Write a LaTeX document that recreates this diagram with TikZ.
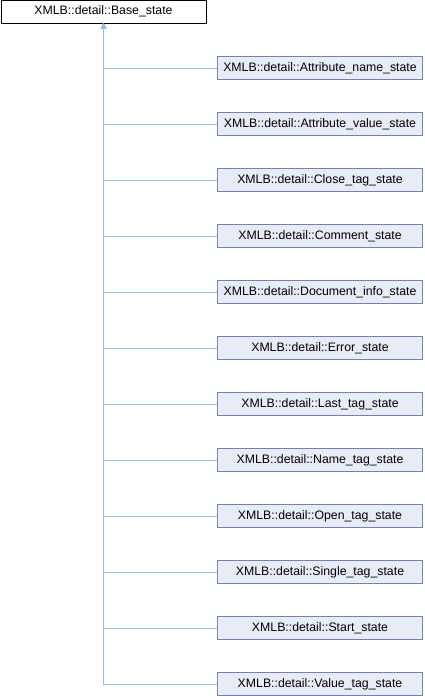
\documentclass[tikz,border=0pt]{standalone}
\usepackage{fontspec}
\setmainfont{Liberation Sans}
\usetikzlibrary{arrows.meta,positioning}
\definecolor{edgeblue}{RGB}{138,196,230}
\definecolor{boxfill}{RGB}{232,236,246}
\definecolor{boxline}{RGB}{110,130,185}

\begin{document}
\begin{tikzpicture}[x=1pt,y=-1pt,
  cls/.style={draw=boxline,fill=boxfill,minimum width=205pt,minimum height=23pt,inner sep=0pt,font=\fontsize{12.3}{14}\selectfont},
  basecls/.style={cls,draw=black,fill=white},
  inherit/.style={draw=edgeblue,line width=0.8pt,-{Triangle[width=5.5pt,length=5.5pt]}}]
\useasboundingbox (0,0) rectangle (424,696);

\node[basecls] (base) at (103.5,11.5) {XMLB::detail::Base\_state};

\foreach \nm [count=\i from 0] in {Attribute\_name\_state,Attribute\_value\_state,Close\_tag\_state,Comment\_state,Document\_info\_state,Error\_state,Last\_tag\_state,Name\_tag\_state,Open\_tag\_state,Single\_tag\_state,Start\_state,Value\_tag\_state}
{
  \node[cls] (c\i) at (320,68+56*\i) {XMLB::detail::\nm};
  \draw[inherit] (c\i.west) -| (base.south);
}

\end{tikzpicture}
\end{document}
